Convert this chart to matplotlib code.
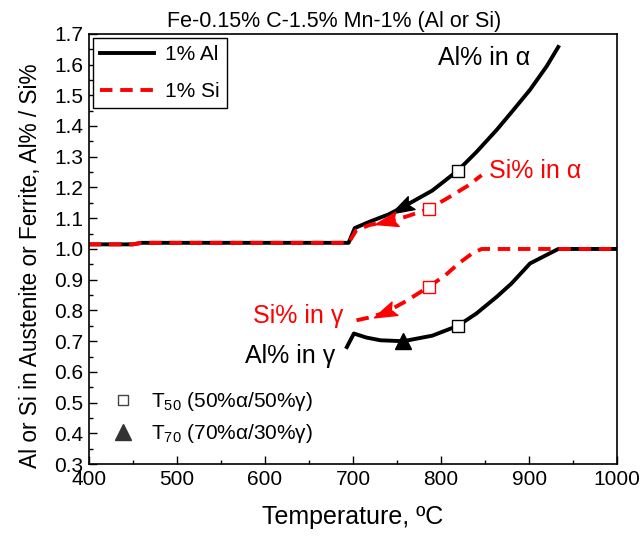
import matplotlib
matplotlib.use('Agg')
import matplotlib.pyplot as plt
import numpy as np
from matplotlib.lines import Line2D
from matplotlib.markers import MarkerStyle
from matplotlib.path import Path
from matplotlib.transforms import Affine2D
from matplotlib.ticker import MultipleLocator, FormatStrFormatter

plt.rcParams['font.family'] = ['Liberation Sans', 'DejaVu Sans']
plt.rcParams['mathtext.fontset'] = 'custom'
plt.rcParams['mathtext.rm'] = 'Liberation Sans'
plt.rcParams['mathtext.it'] = 'Liberation Sans'

# 1% Al curves
al_alpha_T = [400, 450, 460, 695, 702, 720, 740, 757, 790, 819, 840, 863, 880, 901, 920, 933]
al_alpha = [1.015, 1.015, 1.02, 1.02, 1.068, 1.09, 1.112, 1.137, 1.19, 1.255, 1.315, 1.387, 1.445, 1.518, 1.595, 1.657]
al_gamma_T = [693, 701, 715, 731, 757, 790, 819, 840, 863, 880, 901, 933, 1000]
al_gamma = [0.681, 0.725, 0.712, 0.703, 0.700, 0.718, 0.750, 0.790, 0.844, 0.888, 0.953, 1.0, 1.0]

# 1% Si curves
si_alpha_T = [400, 450, 460, 695, 704, 719, 738, 760, 786, 810, 830, 846]
si_alpha = [1.015, 1.015, 1.02, 1.02, 1.062, 1.078, 1.089, 1.105, 1.13, 1.17, 1.205, 1.24]
si_gamma_T = [704, 720, 738, 760, 786, 805, 820, 835, 846, 1000]
si_gamma = [0.768, 0.778, 0.795, 0.83, 0.877, 0.915, 0.953, 0.985, 1.0, 1.0]

# T50 and T70 temperatures
t50_al, t50_si = 819, 786
t70_al, t70_si = 757, 740

fig = plt.figure(figsize=(6.43, 5.36), dpi=100)
ax = fig.add_axes([0.138, 0.134, 0.822, 0.803])

dash = (0, (3.2, 2.0))
l_al, = ax.plot(al_alpha_T, al_alpha, color='black', lw=2.8)
ax.plot(al_gamma_T, al_gamma, color='black', lw=2.8)
l_si, = ax.plot(si_alpha_T, si_alpha, color='red', lw=2.8, ls=dash)
ax.plot(si_gamma_T, si_gamma, color='red', lw=2.8, ls=dash)

ax.set_xlim(400, 1000)
ax.set_ylim(0.3, 1.7)

# arrowhead marker pointing up
head = Path([(0, 1), (-0.55, -0.7), (0, -0.4), (0.55, -0.7), (0, 1)],
            [Path.MOVETO, Path.LINETO, Path.LINETO, Path.LINETO, Path.CLOSEPOLY])


def arrow_at(T, xs, ys, color):
    y = np.interp(T, xs, ys)
    p1 = ax.transData.transform((T + 6, np.interp(T + 6, xs, ys)))
    p0 = ax.transData.transform((T - 6, np.interp(T - 6, xs, ys)))
    d = p0 - p1
    ang = np.degrees(np.arctan2(d[1], d[0]))
    m = MarkerStyle(head, transform=Affine2D().rotate_deg(ang - 90))
    ax.plot([T], [y], marker=m, ms=19, color=color, mec=color, ls='none', zorder=5)


arrow_at(t70_al, al_alpha_T, al_alpha, 'black')
arrow_at(t70_si, si_alpha_T, si_alpha, 'red')
arrow_at(t70_si - 2, si_gamma_T, si_gamma, 'red')
# upright triangle on the Al-in-gamma curve
ax.plot([t70_al], [np.interp(t70_al, al_gamma_T, al_gamma)], marker='^', ms=12,
        color='black', ls='none', zorder=5)

for T, xs, ys, c in [(t50_al, al_alpha_T, al_alpha, 'black'),
                     (t50_al, al_gamma_T, al_gamma, 'black'),
                     (t50_si, si_alpha_T, si_alpha, 'red'),
                     (t50_si, si_gamma_T, si_gamma, 'red')]:
    ax.plot([T], [np.interp(T, xs, ys)], marker='s', ms=8, mfc='white', mec=c, mew=1.0, zorder=6)

ax.text(797, 1.599, 'Al% in α', fontsize=18, color='black', va='baseline')
ax.text(854, 1.231, 'Si% in α', fontsize=18, color='red', va='baseline')
ax.text(586, 0.759, 'Si% in γ', fontsize=18, color='red', va='baseline')
ax.text(577, 0.629, 'Al% in γ', fontsize=18, color='black', va='baseline')

ax.set_xlabel('Temperature, ºC', fontsize=18, labelpad=12)
ax.set_ylabel('Al or Si in Austenite or Ferrite, Al% / Si%', fontsize=16.3)
ax.yaxis.set_label_coords(-0.088, 0.46)
ax.set_title('Fe-0.15% C-1.5% Mn-1% (Al or Si)', fontsize=15.5, pad=5, x=0.464)

ax.xaxis.set_major_locator(MultipleLocator(100))
ax.xaxis.set_minor_locator(MultipleLocator(50))
ax.yaxis.set_major_locator(MultipleLocator(0.1))
ax.yaxis.set_minor_locator(MultipleLocator(0.05))
ax.yaxis.set_major_formatter(FormatStrFormatter('%.1f'))
ax.tick_params(which='both', direction='in', labelsize=15, top=False, right=False)
ax.tick_params(which='major', length=6, width=1, pad=4)
ax.tick_params(which='minor', length=3, width=1)
for s in ax.spines.values():
    s.set_linewidth(1.2)

leg1 = ax.legend([l_al, l_si], ['1% Al', '1% Si'], loc='upper left', fontsize=15,
                 handlelength=2.6, handletextpad=0.5, fancybox=False, edgecolor='black',
                 framealpha=1, borderaxespad=0.2, borderpad=0.35, labelspacing=0.85)
leg1.get_frame().set_linewidth(1.0)
ax.add_artist(leg1)

h50 = Line2D([], [], marker='s', ms=7, mfc='white', mec='#444444', ls='none')
h70 = Line2D([], [], marker='^', ms=11, color='#333333', ls='none')
ax.legend([h50, h70], ['T$_{50}$ (50%α/50%γ)', 'T$_{70}$ (70%α/30%γ)'], loc='lower left',
          fontsize=15, frameon=False, handlelength=1.5, handletextpad=0.6,
          bbox_to_anchor=(0.0, 0.0), labelspacing=0.45)

fig.savefig('out.png', dpi=100)
